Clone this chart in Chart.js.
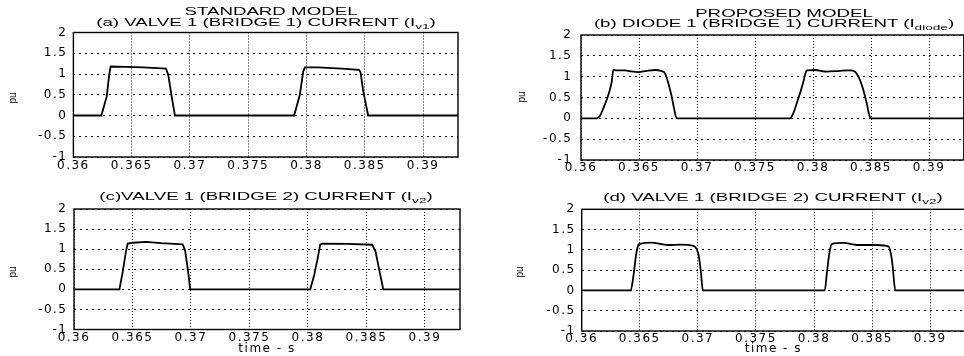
<!DOCTYPE html>
<html>
<head>
<meta charset="utf-8">
<script src="https://cdn.jsdelivr.net/npm/chart.js@4/dist/chart.umd.min.js"></script>
<style>
  html, body { margin:0; padding:0; background:#fff; width:964px; height:356px; overflow:hidden; }
  #wrap { position:relative; width:964px; height:356px; overflow:hidden; }
  canvas { position:absolute; }
  .t { position:absolute; white-space:nowrap; font-family:"Liberation Sans", Arial, sans-serif; font-size:11px; line-height:12px; color:#000; transform:translateX(-50%) scaleX(1.7); }
  .t sub { font-size:8px; line-height:0; vertical-align:-3px; }
  .pu { position:absolute; font-family:"Liberation Sans", Arial, sans-serif; font-size:10px; line-height:10px; color:#000; transform:translate(-50%,-50%) rotate(-90deg); }
</style>
</head>
<body>
<div id="wrap">
  <canvas id="cA" width="480" height="180" style="left:0;top:0"></canvas>
  <canvas id="cB" width="490" height="180" style="left:480px;top:0"></canvas>
  <canvas id="cC" width="480" height="178" style="left:0;top:178px"></canvas>
  <canvas id="cD" width="490" height="178" style="left:480px;top:178px"></canvas>

  <div class="t" style="left:271px;top:4.5px">STANDARD MODEL</div>
  <div class="t" style="left:266px;top:15.5px">(a) VALVE 1 (BRIDGE 1) CURRENT (I<sub>v1</sub>)</div>
  <div class="t" style="left:784px;top:6.5px">PROPOSED MODEL</div>
  <div class="t" style="left:774px;top:16.5px">(b) DIODE 1 (BRIDGE 1) CURRENT (I<sub>diode</sub>)</div>
  <div class="t" style="left:266px;top:190px">(c)VALVE 1 (BRIDGE 2) CURRENT (I<sub>v2</sub>)</div>
  <div class="t" style="left:773px;top:191px">(d) VALVE 1 (BRIDGE 2) CURRENT (I<sub>v2</sub>)</div>

  <div class="pu" style="left:13px;top:98px">pu</div>
  <div class="pu" style="left:522px;top:97px">pu</div>
  <div class="pu" style="left:13px;top:272px">pu</div>
  <div class="pu" style="left:520px;top:272px">pu</div>
</div>
<script>
// ---- tick labels ----
const xTicks = [0.36, 0.365, 0.37, 0.375, 0.38, 0.385, 0.39];
const yTicks = [-1, -0.5, 0, 0.5, 1, 1.5, 2];
const xMin = 0.36, xMax = 0.393, yMin = -1, yMax = 2;

// ---- (a) standard model, valve 1 bridge 1 current ----
const tStdB1 = [0.36, 0.3624, 0.36286, 0.36308, 0.3632, 0.3645, 0.3660, 0.3672, 0.36794, 0.36814, 0.36843, 0.36871,
                0.37894, 0.37943, 0.37972, 0.37986, 0.381, 0.383, 0.3845, 0.38464, 0.38486, 0.38529, 0.393];
const iStdB1 = [0, 0, 0.46, 1.0, 1.18, 1.17, 1.16, 1.14, 1.13, 0.98, 0.46, 0,
                0, 0.5, 1.06, 1.16, 1.16, 1.13, 1.1, 1.04, 0.6, 0, 0];

// ---- (b) proposed model, diode 1 bridge 1 current ----
const tPropB1 = [0.36, 0.36135, 0.36164, 0.36192, 0.36221, 0.36244, 0.36265, 0.36279, 0.36308, 0.3638,
                 0.36422, 0.36494, 0.36566, 0.36638, 0.36696, 0.36724, 0.36753, 0.36782, 0.36802, 0.36825,
                 0.37802, 0.3783, 0.3786, 0.37888, 0.37917, 0.3794, 0.37951, 0.38017, 0.38118, 0.38233,
                 0.38319, 0.38362, 0.38405, 0.38434, 0.38463, 0.38485, 0.38497, 0.393];
const iPropB1 = [0, 0, 0.06, 0.24, 0.44, 0.64, 0.88, 1.16, 1.15, 1.15,
                 1.13, 1.11, 1.14, 1.16, 1.13, 1.08, 0.84, 0.52, 0.24, 0,
                 0, 0.12, 0.36, 0.6, 0.88, 1.12, 1.15, 1.16, 1.12, 1.14,
                 1.15, 1.12, 0.92, 0.68, 0.36, 0.08, 0, 0];

// ---- (c) standard model, valve 1 bridge 2 current ----
const tStdB2 = [0.36, 0.36388, 0.36417, 0.36444, 0.36459, 0.36502, 0.36615, 0.36744, 0.36929, 0.36949, 0.36972, 0.36994,
                0.3802, 0.38054, 0.38083, 0.38105, 0.38126, 0.38336, 0.3855, 0.38578, 0.38607, 0.38644, 0.393];
const iStdB2 = [0, 0, 0.44, 0.94, 1.14, 1.16, 1.18, 1.15, 1.12, 0.98, 0.52, 0,
                0, 0.36, 0.77, 1.12, 1.14, 1.13, 1.11, 0.94, 0.52, 0, 0];

// ---- (d) proposed model, valve 1 bridge 2 current ----
const tPropB2 = [0.36, 0.36422, 0.36446, 0.36468, 0.36488, 0.36503, 0.36603, 0.36675, 0.36747, 0.36847, 0.36962, 0.37006, 0.37026, 0.37043,
                 0.38092, 0.38112, 0.38135, 0.38155, 0.38255, 0.3837, 0.38543, 0.38643, 0.38672, 0.38701, 0.393];
const iPropB2 = [0, 0, 0.37, 0.87, 1.12, 1.15, 1.18, 1.15, 1.12, 1.13, 1.10, 0.88, 0.46, 0,
                 0, 0.46, 0.97, 1.15, 1.17, 1.12, 1.12, 1.08, 0.73, 0, 0];

const TICK_FONT = { family: 'DejaVu Sans', size: 12 };
const LS = '1.5px';

const spacingPlugin = {
  id: 'ls',
  beforeUpdate(c) { c.ctx.letterSpacing = LS; },
  beforeLayout(c) { c.ctx.letterSpacing = LS; },
  beforeDraw(c) { c.ctx.letterSpacing = LS; }
};
const boxPlugin = {
  id: 'box',
  afterDraw(c) {
    const a = c.chartArea, ctx = c.ctx;
    ctx.save();
    ctx.setLineDash([]);
    ctx.strokeStyle = '#000';
    ctx.lineWidth = 1.4;
    ctx.strokeRect(a.left, a.top, a.right - a.left, a.bottom - a.top);
    ctx.restore();
  }
};

function makeChart(id, ts, vals, cfg) {
  const pts = ts.map((t, k) => ({ x: t, y: vals[k] }));
  return new Chart(document.getElementById(id), {
    type: 'line',
    data: { datasets: [{ data: pts, borderColor: '#000', borderWidth: 1.8, pointRadius: 0,
                         fill: false, tension: 0, cubicInterpolationMode: cfg.smooth ? 'monotone' : 'default' }] },
    options: {
      responsive: false, animation: false, devicePixelRatio: 1,
      layout: { padding: { left: 0, top: cfg.top, right: cfg.right, bottom: cfg.bottom } },
      plugins: { legend: { display: false }, tooltip: { enabled: false }, title: { display: false } },
      scales: {
        x: {
          type: 'linear', min: xMin, max: xMax,
          afterBuildTicks: s => { s.ticks = xTicks.map(v => ({ value: v })); },
          afterFit: s => { s.height = cfg.xh; },
          ticks: { autoSkip: false, maxRotation: 0, padding: cfg.xpad, color: '#000', font: TICK_FONT,
                   callback: v => String(+Number(v).toFixed(3)) },
          grid: { color: '#111', lineWidth: 1, drawTicks: false },
          border: { display: false, dash: [1, 2] },
          title: { display: !!cfg.xtitle, text: 'time - s', color: '#000', font: TICK_FONT, padding: { top: 0, bottom: cfg.tpad || 0 } }
        },
        y: {
          type: 'linear', min: yMin, max: yMax,
          afterBuildTicks: s => { s.ticks = yTicks.map(v => ({ value: v })); },
          afterFit: s => { s.width = cfg.yw; },
          ticks: { autoSkip: false, padding: cfg.ypad, color: '#000', font: TICK_FONT, callback: v => String(v) },
          grid: { color: '#111', lineWidth: 1, drawTicks: false },
          border: { display: false, dash: [2, 4] }
        }
      }
    },
    plugins: [spacingPlugin, boxPlugin]
  });
}

makeChart('cA', tStdB1, iStdB1, { top: 32.5, right: 22, bottom: 3, xh: 20, yw: 73.4, xpad: 1.5, ypad: 6, smooth: false });
makeChart('cB', tPropB1, iPropB1, { top: 35, right: 6.2, bottom: 2, xh: 18, yw: 101, xpad: 0.5, ypad: 8.5, smooth: true });
makeChart('cC', tStdB2, iStdB2, { top: 31, right: 20, bottom: 0, xh: 26.5, yw: 74, xpad: 0.8, ypad: 6.5, smooth: false, xtitle: true, tpad: 0 });
makeChart('cD', tPropB2, iPropB2, { top: 31.3, right: 5, bottom: 0, xh: 25, yw: 101.7, xpad: 0.8, ypad: 6, smooth: true, xtitle: true, tpad: 0 });
</script>
</body>
</html>
